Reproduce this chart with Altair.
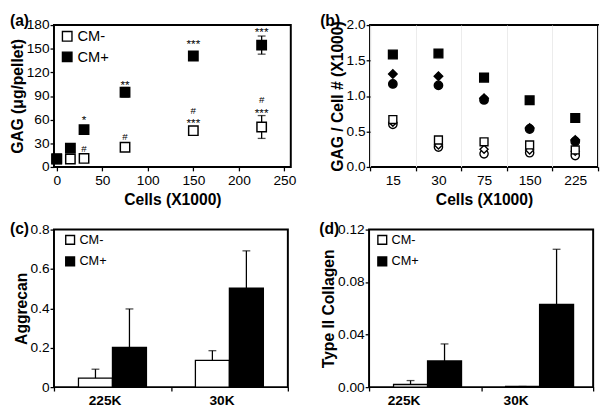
import altair as alt
import pandas as pd

FONT = "Liberation Sans"

# ---------------- Panel (a): GAG per pellet ----------------
a_cells = [0, 15, 30, 75, 150, 225]
a_cm_minus = [10.0, 10.0, 10.8, 25.0, 46.0, 50.7]
a_cm_minus_err = [1.0, 1.5, 1.5, 2.0, 2.5, 14.5]
a_cm_plus = [10.4, 23.7, 47.4, 94.8, 140.7, 154.6]
a_cm_plus_err = [1.5, 1.5, 3.0, 6.0, 2.0, 11.5]

a_ann_x = [30, 75, 150, 225, 30, 75, 150, 150, 225, 225]
a_ann_y = [63, 107, 160, 174.5, 23, 38, 71.5, 60, 85, 72.7]
a_ann_t = ["*", "**", "***", "***", "#", "#", "#", "***", "#", "***"]

# ---------------- Panel (b): GAG / cell ----------------
b_cells = ["15", "30", "75", "150", "225"]
b_series = ["CM+ A", "CM+ B", "CM+ C", "CM- C", "CM- B", "CM- A"]
b_shapes = ["square", "diamond", "circle", "circle", "diamond", "square"]
b_fills = ["black", "black", "black", "white", "white", "white"]
b_sizes = [80, 65, 55, 45, 40, 70]
b_values = [
    [1.585, 1.60, 1.26, 0.94, 0.69],   # CM+ A (filled square)
    [1.31, 1.28, 0.97, 0.55, 0.38],    # CM+ B (filled diamond)
    [1.17, 1.15, 0.945, 0.535, 0.36],  # CM+ C (filled circle)
    [0.60, 0.28, 0.185, 0.20, 0.16],   # CM- C (open circle)
    [0.63, 0.31, 0.25, 0.24, 0.22],    # CM- B (open diamond)
    [0.668, 0.38, 0.355, 0.31, 0.24],  # CM- A (open square)
]

# ---------------- Panel (c): Aggrecan ----------------
cats = ["225K", "30K"]
groups = ["CM-", "CM+"]
c_minus = [0.046, 0.136]
c_minus_hi = [0.091, 0.185]
c_plus = [0.202, 0.503]
c_plus_hi = [0.397, 0.692]

# ---------------- Panel (d): Type II Collagen ----------------
d_minus = [0.002, 0.0005]
d_minus_hi = [0.005, 0.0005]
d_plus = [0.0199, 0.063]
d_plus_hi = [0.0329, 0.105]


def panel_label(txt, xpos, ypos):
    return alt.Chart(pd.DataFrame({"p": [txt]})).mark_text(
        font=FONT, fontSize=16, fontWeight="bold", align="left", baseline="middle", color="black"
    ).encode(x=alt.value(xpos), y=alt.value(ypos), text="p:N")


def group_legend(lx, ly, fs, ss, rp):
    return alt.Legend(
        title=None, orient="none", legendX=lx, legendY=ly, symbolType="square",
        symbolSize=ss, symbolStrokeColor="black", symbolStrokeWidth=1.4,
        labelFontSize=fs, labelFont=FONT, labelColor="black", rowPadding=rp,
        padding=0, labelOffset=3,
    )


# ----- build (a)
dfa = pd.DataFrame({
    "Cells": a_cells * 2,
    "GAG": a_cm_minus + a_cm_plus,
    "err": a_cm_minus_err + a_cm_plus_err,
    "Group": ["CM-"] * len(a_cells) + ["CM+"] * len(a_cells),
})
dfa["lo"] = dfa["GAG"] - dfa["err"]
dfa["hi"] = dfa["GAG"] + dfa["err"]

ya_title = "GAG (μg/pellet)"
xa_scale = alt.Scale(domain=[-3, 257], nice=False, zero=False)
xa_axis = alt.Axis(values=[0, 50, 100, 150, 200, 250], title="Cells (X1000)")
ya_scale = alt.Scale(domain=[0, 180], nice=False)
ya_axis = alt.Axis(values=[0, 30, 60, 90, 120, 150, 180], format="d", labelOverlap=False)


def xa(field="Cells"):
    return alt.X(f"{field}:Q", scale=xa_scale, axis=xa_axis)


def ya(field):
    return alt.Y(f"{field}:Q", scale=ya_scale, title=ya_title, axis=ya_axis)


base_a = alt.Chart(dfa)
a_rule = base_a.mark_rule(color="black", strokeWidth=1.3).encode(x=xa(), y=ya("lo"), y2="hi:Q")
a_cap_hi = base_a.mark_tick(orient="horizontal", size=8, thickness=1.3, color="black").encode(
    x=xa(), y=ya("hi"))
a_cap_lo = base_a.mark_tick(orient="horizontal", size=8, thickness=1.3, color="black").encode(
    x=xa(), y=ya("lo"))
a_pts = base_a.mark_point(shape="square", filled=True, size=92, stroke="black",
                          strokeWidth=1.5, opacity=1).encode(
    x=xa(), y=ya("GAG"),
    fill=alt.Fill("Group:N", scale=alt.Scale(domain=groups, range=["white", "black"]),
                  legend=group_legend(6, 4, 15, 95, 4)),
)
dfa_ann = pd.DataFrame({"Cells": a_ann_x, "y": a_ann_y, "t": a_ann_t})
a_stars = alt.Chart(dfa_ann).transform_filter(alt.datum.t != "#").mark_text(
    font=FONT, fontSize=12, color="black", baseline="middle", dy=3).encode(
    x=xa(), y=ya("y"), text="t:N")
a_hash = alt.Chart(dfa_ann).transform_filter(alt.datum.t == "#").mark_text(
    font=FONT, fontSize=10, color="black", baseline="middle").encode(
    x=xa(), y=ya("y"), text="t:N")

chart_a = alt.layer(a_rule, a_cap_hi, a_cap_lo, a_pts, a_stars, a_hash,
                    panel_label("(a)", -45, -4)).properties(width=242, height=145)

# ----- build (b)
rows = []
for s, vals in zip(b_series, b_values):
    for c, v in zip(b_cells, vals):
        rows.append({"Cells": c, "Series": s, "Value": v})
dfb = pd.DataFrame(rows)

b_pts = alt.Chart(dfb).mark_point(filled=True, stroke="black", strokeWidth=1.4, opacity=1).encode(
    x=alt.X("Cells:N", sort=b_cells, scale=alt.Scale(type="band", paddingInner=0, paddingOuter=0),
            axis=alt.Axis(tickBand="extent", labelAngle=0, title="Cells (X1000)",
                          grid=True, gridColor="#ececec")),
    y=alt.Y("Value:Q", scale=alt.Scale(domain=[0, 2], nice=False),
            axis=alt.Axis(values=[0, 0.5, 1.0, 1.5, 2.0], format=".1f", labelOverlap=False),
            title="GAG / Cell # (X1000)"),
    shape=alt.Shape("Series:N", scale=alt.Scale(domain=b_series, range=b_shapes), legend=None),
    fill=alt.Fill("Series:N", scale=alt.Scale(domain=b_series, range=b_fills), legend=None),
    size=alt.Size("Series:N", scale=alt.Scale(domain=b_series, range=b_sizes), legend=None),
)
chart_b = alt.layer(b_pts, panel_label("(b)", -51, -4)).properties(width=233, height=145)


# ----- bar panels (c) and (d)
def bar_panel(minus, minus_hi, plus, plus_hi, ymax, yvals, yfmt, ytitle, lab, lab_x,
              width, lg, label_offset):
    df = pd.DataFrame({
        "Cat": cats * 2,
        "Group": ["CM-"] * len(cats) + ["CM+"] * len(cats),
        "Value": minus + plus,
        "Hi": minus_hi + plus_hi,
    })
    x = alt.X("Cat:N", sort=cats, scale=alt.Scale(paddingInner=0, paddingOuter=0),
              axis=alt.Axis(tickBand="extent", labelAngle=0, title=None, labelFontWeight="bold",
                            labelFontSize=14, labelOffset=label_offset))
    xo = alt.XOffset("Group:N", sort=groups, scale=alt.Scale(paddingInner=0, paddingOuter=0.72))
    ysc = alt.Scale(domain=[0, ymax], nice=False)
    yax = alt.Axis(values=yvals, format=yfmt, labelOverlap=False)
    base = alt.Chart(df)
    bars = base.mark_bar(stroke="black", strokeWidth=1.3).encode(
        x=x, xOffset=xo,
        y=alt.Y("Value:Q", scale=ysc, title=ytitle, axis=yax),
        fill=alt.Fill("Group:N", scale=alt.Scale(domain=groups, range=["white", "black"]),
                      legend=lg),
    )
    err = base.mark_rule(color="black", strokeWidth=1.3).encode(
        x=x, xOffset=xo, y=alt.Y("Value:Q", scale=ysc, title=ytitle, axis=yax), y2="Hi:Q")
    cap = base.mark_tick(orient="horizontal", size=8, thickness=1.3, color="black").encode(
        x=x, xOffset=xo, y=alt.Y("Hi:Q", scale=ysc, title=ytitle, axis=yax))
    return alt.layer(bars, err, cap, panel_label(lab, lab_x, 0)).properties(width=width, height=161)


chart_c = bar_panel(c_minus, c_minus_hi, c_plus, c_plus_hi, 0.8, [0, 0.2, 0.4, 0.6, 0.8], ".1~f",
                    "Aggrecan", "(c)", -45, 239, group_legend(10, 4, 13, 81, 7), -8)
chart_d = bar_panel(d_minus, d_minus_hi, d_plus, d_plus_hi, 0.12, [0, 0.04, 0.08, 0.12], ".2f",
                    "Type II Collagen", "(d)", -51, 229, group_legend(7, 4, 13, 81, 7), -22)

top = alt.hconcat(chart_a, chart_b, spacing=22).resolve_scale(
    fill="independent", shape="independent", size="independent").resolve_legend(
    fill="independent", shape="independent", size="independent")
bottom = alt.hconcat(chart_c, chart_d, spacing=29).resolve_scale(
    fill="independent").resolve_legend(fill="independent")

chart = alt.vconcat(top, bottom, spacing=13, padding=0).resolve_scale(
    fill="independent", shape="independent", size="independent").resolve_legend(
    fill="independent", shape="independent", size="independent").configure(
    font=FONT).configure_view(
    stroke="black", strokeWidth=2).configure_axis(
    domain=False, grid=False, labelFont=FONT, titleFont=FONT, labelColor="black",
    titleColor="black", labelFontSize=14, titleFontSize=16, titleFontWeight="bold",
    tickColor="black", tickSize=4, tickWidth=1.3, labelPadding=1, titlePadding=1,
    labelOverlap=False).configure_axisX(
    labelPadding=3, titlePadding=4)

chart.save("out.html", embed_options={"renderer": "svg", "actions": False})
